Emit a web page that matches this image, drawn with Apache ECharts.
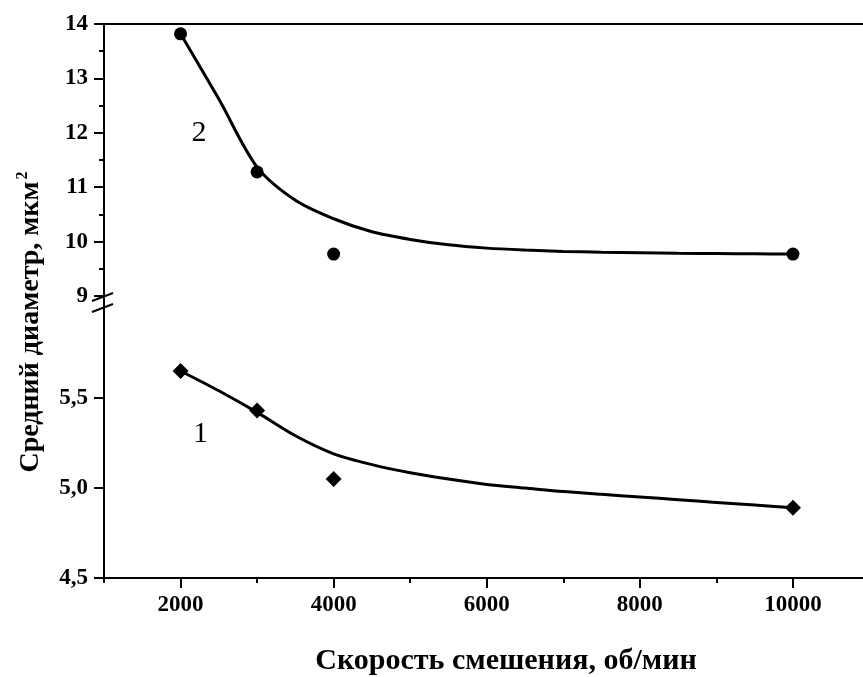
<!DOCTYPE html>
<html><head><meta charset="utf-8">
<script src="https://cdn.jsdelivr.net/npm/echarts@6/dist/echarts.min.js"></script>
<style>html,body{margin:0;padding:0;background:#fff;overflow:hidden}#c{width:863px;height:677px}</style>
</head><body><div id="c"></div>
<script>
// measured points
const pointX = [2000, 3000, 4000, 10000];
const diam1 = [5.65, 5.43, 5.05, 4.89];
const diam2 = [13.82, 11.28, 9.77, 9.77];
// fitted curves (every 500 rpm)
const curveX = [2000, 2500, 3000, 3500, 4000, 4500, 5000, 5500, 6000, 6500, 7000, 7500, 8000, 8500, 9000, 9500, 10000];
const curve1 = [5.65, 5.54, 5.42, 5.29, 5.19, 5.13, 5.085, 5.05, 5.02, 5.0, 4.98, 4.965, 4.95, 4.935, 4.92, 4.905, 4.89];
const curve2 = [13.82, 12.62, 11.37, 10.76, 10.42, 10.18, 10.04, 9.94, 9.88, 9.845, 9.82, 9.805, 9.795, 9.785, 9.78, 9.775, 9.77];
// ticks
const xTicks = [2000, 4000, 6000, 8000, 10000];
const xMinorTicks = [1000, 3000, 5000, 7000, 9000];
const lowerTicks = [4.5, 5.0, 5.5];
const curveNames = ['1', '2'];
const xTitle = 'Скорость смешения, об/мин';
const yTitle = 'Средний диаметр, мкм';

const FONT = '"Liberation Serif", "Times New Roman", serif';
const X_MIN = 1000, X_MAX = 10915;
const chart = echarts.init(document.getElementById('c'), null, {renderer: 'canvas'});
const lineStyle = {color: '#000', width: 2};
const zip = (xs, ys) => xs.map((x, i) => [x, ys[i]]);

chart.setOption({
  animation: false,
  backgroundColor: '#fff',
  grid: [
    {left: 104, right: 0, top: 24, height: 272},
    {left: 104, right: 0, top: 308, height: 270}
  ],
  xAxis: [
    {gridIndex: 0, type: 'value', position: 'top', min: X_MIN, max: X_MAX,
     axisLine: {show: true, lineStyle}, axisTick: {show: false}, axisLabel: {show: false}, splitLine: {show: false}},
    {gridIndex: 1, type: 'value', position: 'bottom', min: X_MIN, max: X_MAX,
     axisLine: {show: true, onZero: false, lineStyle},
     axisTick: {show: true, length: 10, lineStyle: {color: '#000', width: 2}, customValues: xTicks},
     axisLabel: {show: true, customValues: xTicks, margin: 16, color: '#000', fontFamily: FONT, fontWeight: 'bold', fontSize: 23,
       formatter: v => String(v)},
     splitLine: {show: false}},
    {gridIndex: 1, type: 'value', position: 'bottom', min: X_MIN, max: X_MAX,
     axisLine: {show: false},
     axisTick: {show: true, length: 5, lineStyle: {color: '#000', width: 2}, customValues: xMinorTicks},
     axisLabel: {show: false}, splitLine: {show: false}}
  ],
  yAxis: [
    {gridIndex: 0, type: 'value', min: 9, max: 14, interval: 1,
     axisLine: {show: true, onZero: false, lineStyle},
     axisTick: {show: true, length: 10, lineStyle: {color: '#000', width: 2}},
     minorTick: {show: true, splitNumber: 2, length: 5, lineStyle: {color: '#000', width: 2}},
     axisLabel: {margin: 16, color: '#000', fontFamily: FONT, fontWeight: 'bold', fontSize: 23},
     splitLine: {show: false}},
    {gridIndex: 1, type: 'value', min: 4.5, max: 6.0,
     axisLine: {show: true, onZero: false, lineStyle},
     axisTick: {show: true, length: 10, lineStyle: {color: '#000', width: 2}, customValues: lowerTicks},
     axisLabel: {margin: 16, customValues: lowerTicks, color: '#000', fontFamily: FONT, fontWeight: 'bold', fontSize: 23,
       formatter: v => v.toFixed(1).replace('.', ',')},
     splitLine: {show: false}}
  ],
  series: [
    {type: 'line', xAxisIndex: 0, yAxisIndex: 0, data: zip(curveX, curve2), smooth: 0.3,
     showSymbol: false, symbol: 'none', lineStyle: {color: '#000', width: 3}, silent: true},
    {type: 'scatter', xAxisIndex: 0, yAxisIndex: 0, data: zip(pointX, diam2), symbol: 'circle', symbolSize: 13,
     itemStyle: {color: '#000', opacity: 1}},
    {type: 'line', xAxisIndex: 1, yAxisIndex: 1, data: zip(curveX, curve1), smooth: 0.3,
     showSymbol: false, symbol: 'none', lineStyle: {color: '#000', width: 3}, silent: true},
    {type: 'scatter', xAxisIndex: 1, yAxisIndex: 1, data: zip(pointX, diam1), symbol: 'diamond', symbolSize: [16, 16],
     itemStyle: {color: '#000', opacity: 1}}
  ]
});

const p9 = chart.convertToPixel({xAxisIndex: 0, yAxisIndex: 0}, [X_MIN, 9]);
const p6 = chart.convertToPixel({xAxisIndex: 1, yAxisIndex: 1}, [X_MIN, 6]);
const lab2 = chart.convertToPixel({xAxisIndex: 0, yAxisIndex: 0}, [2240, 12.0]);
const lab1 = chart.convertToPixel({xAxisIndex: 1, yAxisIndex: 1}, [2260, 5.30]);
const ax = p9[0];
const slash = (cy) => ({type: 'line', shape: {x1: ax - 12, y1: cy + 4, x2: ax + 9, y2: cy - 4},
  style: {stroke: '#000', lineWidth: 2}});

chart.setOption({
  graphic: [
    {type: 'line', shape: {x1: ax, y1: p9[1], x2: ax, y2: p6[1]}, style: {stroke: '#000', lineWidth: 2}},
    slash(p9[1] + 1), slash(p6[1]),
    {type: 'text', x: lab2[0], y: lab2[1], style: {text: curveNames[1], font: '30px ' + FONT, fill: '#000', align: 'center', verticalAlign: 'middle'}},
    {type: 'text', x: lab1[0], y: lab1[1], style: {text: curveNames[0], font: '30px ' + FONT, fill: '#000', align: 'center', verticalAlign: 'middle'}},
    {type: 'text', x: 506, y: 661, style: {text: xTitle, font: 'bold 30px ' + FONT, fill: '#000', align: 'center', verticalAlign: 'middle'}},
    {type: 'text', x: 31, y: 322, rotation: Math.PI / 2,
     style: {text: yTitle + '{s|2}', font: 'bold 28px ' + FONT, fill: '#000', align: 'center', verticalAlign: 'middle',
       rich: {s: {fontSize: 16, fontWeight: 'bold', fontFamily: FONT, verticalAlign: 'top', lineHeight: 32, padding: [0, 0, 0, 2]}}}}
  ]
});
</script></body></html>
